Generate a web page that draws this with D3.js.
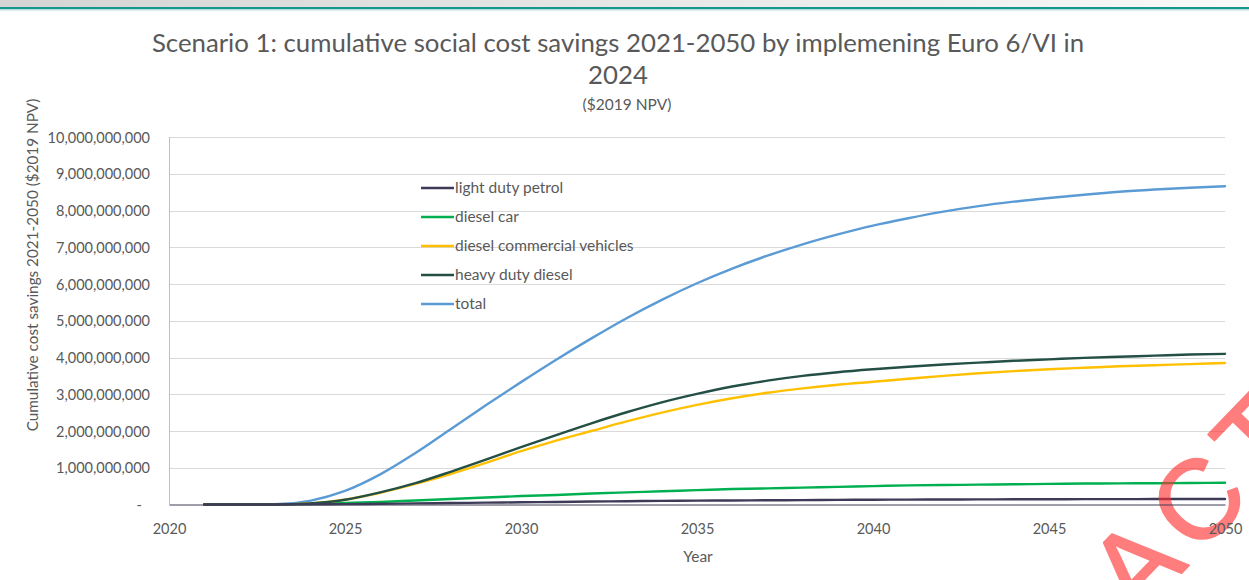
<!DOCTYPE html>
<html>
<head>
<meta charset="utf-8">
<script src="https://cdn.jsdelivr.net/npm/d3@7"></script>
<style>
  html, body { margin: 0; padding: 0; background: #fff; }
  svg { display: block; }
</style>
</head>
<body>
<svg id="chart" width="1249" height="580"></svg>
<script>
// ---------- data (values in billions of $2019 NPV) ----------
const years = [2021, 2022, 2023, 2024, 2025, 2026, 2027, 2028, 2029, 2030,
               2031, 2032, 2033, 2034, 2035, 2036, 2037, 2038, 2039, 2040,
               2041, 2042, 2043, 2044, 2045, 2046, 2047, 2048, 2049, 2050];

const lightDutyPetrol = [0, 0, 0, 0.005, 0.01, 0.02, 0.03, 0.04, 0.05, 0.06,
                         0.07, 0.08, 0.09, 0.10, 0.105, 0.11, 0.115, 0.12, 0.125, 0.13,
                         0.133, 0.136, 0.139, 0.141, 0.143, 0.145, 0.147, 0.148, 0.149, 0.15];

const dieselCar = [0, 0, 0, 0.01, 0.04, 0.07, 0.11, 0.15, 0.19, 0.23,
                   0.26, 0.30, 0.33, 0.36, 0.39, 0.42, 0.44, 0.46, 0.48, 0.50,
                   0.52, 0.53, 0.54, 0.55, 0.56, 0.57, 0.575, 0.58, 0.585, 0.59];

const dieselCommercial = [0, 0, 0, 0.03, 0.13, 0.32, 0.56, 0.83, 1.13, 1.45,
                          1.74, 2.00, 2.26, 2.50, 2.71, 2.89, 3.04, 3.16, 3.26, 3.34,
                          3.42, 3.50, 3.57, 3.63, 3.68, 3.72, 3.76, 3.79, 3.82, 3.85];

const heavyDutyDiesel = [0, 0, 0, 0.03, 0.13, 0.33, 0.58, 0.89, 1.22, 1.56,
                         1.89, 2.21, 2.51, 2.78, 3.01, 3.21, 3.37, 3.50, 3.60, 3.68,
                         3.75, 3.81, 3.86, 3.91, 3.95, 3.99, 4.02, 4.05, 4.08, 4.10];

const total = [0, 0, 0.005, 0.10, 0.37, 0.82, 1.40, 2.05, 2.70, 3.33,
               3.94, 4.52, 5.07, 5.57, 6.02, 6.42, 6.77, 7.08, 7.35, 7.59,
               7.79, 7.97, 8.12, 8.24, 8.34, 8.43, 8.51, 8.57, 8.62, 8.66];

const seriesNames = ["light duty petrol", "diesel car", "diesel commercial vehicles", "heavy duty diesel", "total"];
const seriesColors = ["#3d3b57", "#00b050", "#ffc000", "#244f45", "#5b9bd5"];
const seriesValues = [lightDutyPetrol, dieselCar, dieselCommercial, heavyDutyDiesel, total];

const xTicks = [2020, 2025, 2030, 2035, 2040, 2045, 2050];
const yTicks = [0, 1e9, 2e9, 3e9, 4e9, 5e9, 6e9, 7e9, 8e9, 9e9, 1e10];

const titleLine1 = "Scenario 1: cumulative social cost savings 2021-2050 by implemening Euro 6/VI in";
const titleLine2 = "2024";
const subtitle = "($2019 NPV)";
const yTitle = "Cumulative cost savings 2021-2050 ($2019 NPV)";
const xTitle = "Year";
const watermark = "REDACTED";

// ---------- drawing ----------
const svg = d3.select("#chart");
const FONT = "Lato, 'Open Sans', sans-serif";
const TXT = "#595959";

// top decorative band
const defs = svg.append("defs");
const grad = defs.append("linearGradient").attr("id", "topband").attr("x1", "0").attr("x2", "1");
grad.append("stop").attr("offset", "0").attr("stop-color", "#d4d4d4");
grad.append("stop").attr("offset", "1").attr("stop-color", "#f9f9f9");
svg.append("rect").attr("x", 0).attr("y", 0).attr("width", 1249).attr("height", 7).attr("fill", "url(#topband)");
svg.append("rect").attr("x", 0).attr("y", 7).attr("width", 1249).attr("height", 2).attr("fill", "#15978d");
svg.append("rect").attr("x", 0).attr("y", 9).attr("width", 1249).attr("height", 1.5).attr("fill", "#b4e0dc");

const x = d3.scaleLinear().domain([2020, 2050]).range([169, 1225]);
const y = d3.scaleLinear().domain([0, 1e10]).range([504.5, 137]);

// gridlines
svg.append("g")
  .selectAll("line")
  .data(yTicks.filter(d => d > 0))
  .join("line")
  .attr("x1", x(2020)).attr("x2", x(2050))
  .attr("y1", d => Math.round(y(d)) + 0.5).attr("y2", d => Math.round(y(d)) + 0.5)
  .attr("stroke", "#d9d9d9").attr("stroke-width", 1);

// y axis
const yAxis = d3.axisLeft(y).tickValues(yTicks).tickSize(0).tickPadding(0)
  .tickFormat(d => d === 0 ? "-" : d3.format(",")(d));
const gy = svg.append("g").attr("transform", "translate(150,0)").call(yAxis);
gy.select(".domain").remove();
gy.selectAll("text").attr("fill", TXT).style("font-family", FONT).style("font-size", "14.5px")
  .attr("dy", "0.35em")
  .attr("x", d => d === 0 ? -8 : 0);

// left axis line
svg.append("line").attr("x1", x(2020) + 0.5).attr("x2", x(2020) + 0.5)
  .attr("y1", y(1e10)).attr("y2", y(0)).attr("stroke", "#bfbfbf");

// x axis
const xAxis = d3.axisBottom(x).tickValues(xTicks).tickSize(0).tickPadding(0).tickFormat(d3.format("d"));
const gx = svg.append("g").attr("transform", `translate(0,${y(0)})`).call(xAxis);
gx.select(".domain").attr("stroke", "#3f3f55").attr("stroke-width", 1.2);
gx.selectAll("text").attr("fill", TXT).style("font-family", FONT).style("font-size", "14.5px")
  .attr("y", 19).attr("dy", "0.71em");

// lines
const line = d3.line()
  .x((d, i) => x(years[i]))
  .y(d => y(d * 1e9))
  .curve(d3.curveMonotoneX);

const order = [4, 1, 2, 3, 0];
svg.append("g").selectAll("path")
  .data(order)
  .join("path")
  .attr("d", k => line(seriesValues[k]))
  .attr("fill", "none")
  .attr("stroke", k => seriesColors[k])
  .attr("stroke-width", 2.4)
  .attr("stroke-linejoin", "round")
  .attr("stroke-linecap", "round");

// legend
const legend = svg.append("g").attr("transform", "translate(421,188)");
const items = legend.selectAll("g").data(seriesNames).join("g")
  .attr("transform", (d, i) => `translate(0,${i * 29})`);
items.append("line").attr("x1", 0).attr("x2", 33).attr("y1", 0).attr("y2", 0)
  .attr("stroke", (d, i) => seriesColors[i]).attr("stroke-width", 2.4);
items.append("text").attr("x", 34).attr("y", 0).attr("dy", "0.35em")
  .attr("fill", TXT).style("font-family", FONT).style("font-size", "15.5px")
  .text(d => d);

// titles
svg.append("text").attr("x", 618).attr("y", 52).attr("text-anchor", "middle")
  .attr("fill", TXT).style("font-family", FONT).style("font-size", "25.8px").text(titleLine1);
svg.append("text").attr("x", 618).attr("y", 84).attr("text-anchor", "middle")
  .attr("fill", TXT).style("font-family", FONT).style("font-size", "25.8px").text(titleLine2);
svg.append("text").attr("x", 627).attr("y", 110).attr("text-anchor", "middle")
  .attr("fill", TXT).style("font-family", FONT).style("font-size", "15.5px").text(subtitle);

svg.append("text").attr("transform", `translate(38,265) rotate(-90)`)
  .attr("text-anchor", "middle")
  .attr("fill", TXT).style("font-family", FONT).style("font-size", "15.3px").text(yTitle);
svg.append("text").attr("x", 698).attr("y", 562).attr("text-anchor", "middle")
  .attr("fill", TXT).style("font-family", FONT).style("font-size", "15.5px").text(xTitle);

// watermark (semi-transparent, under the axis labels)
const wm = svg.append("g").attr("opacity", 0.62);
wm.append("text")
  .attr("transform", "translate(948,815) rotate(-46)")
  .attr("fill", "#ff2e2e")
  .attr("stroke", "#ff2e2e")
  .attr("stroke-width", 2)
  .attr("stroke-linejoin", "round")
  .style("font-family", "'Liberation Sans', Arial, sans-serif")
  .style("font-size", "112px")
  .style("letter-spacing", "12px")
  .text(watermark);

gx.raise();
</script>
</body>
</html>
